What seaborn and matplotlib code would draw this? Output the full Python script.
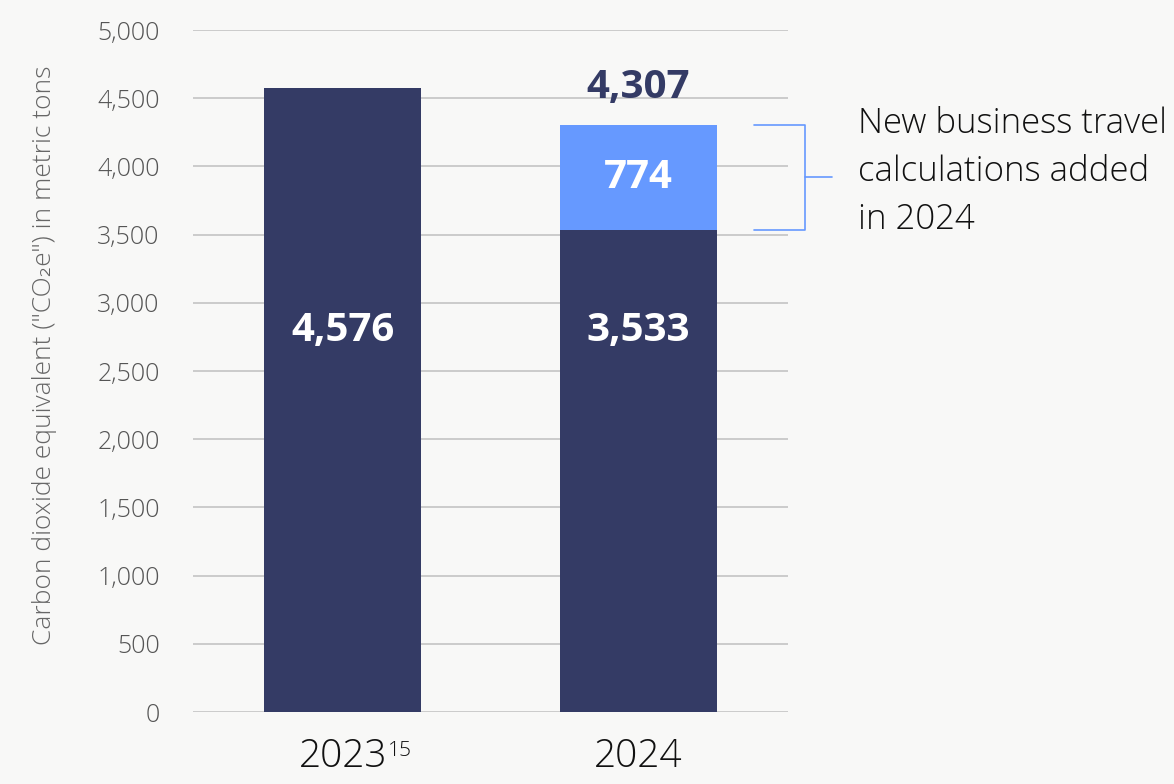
import pandas as pd
import matplotlib
matplotlib.use("Agg")
import matplotlib.pyplot as plt
import seaborn as sns

# Datos del gráfico
years = ["2023", "2024"]
base_values = [4576, 3533]
added_values = [0, 774]
footnotes = ["15", ""]
y_ticks = [0, 500, 1000, 1500, 2000, 2500, 3000, 3500, 4000, 4500, 5000]

navy = "#343b65"
light_blue = "#6699ff"
bg = "#f8f8f7"

totals = [b + a for b, a in zip(base_values, added_values)]
df = pd.DataFrame({"year": years, "base": base_values, "added": added_values, "total": totals})

sns.set_theme(style="white")
plt.rcParams["font.family"] = ["Open Sans", "DejaVu Sans"]

fig = plt.figure(figsize=(11.74, 7.84), dpi=100, facecolor=bg)
ax = fig.add_axes([0.1644, 0.0918, 0.5068, 0.8699])
ax.set_facecolor(bg)

# barras totales (2024 en azul claro) y luego la base en azul oscuro
top_colors = [navy if a == 0 else light_blue for a in added_values]
sns.barplot(data=df, x="year", y="total", hue="year", palette=top_colors, saturation=1,
            width=0.532, legend=False, ax=ax, zorder=3, linewidth=0)
sns.barplot(data=df, x="year", y="base", hue="year", palette=[navy, navy], saturation=1,
            width=0.532, legend=False, ax=ax, zorder=3, linewidth=0)

ax.set_xlim(-0.508, 1.508)
ax.set_ylim(0, 5000)
ax.set_yticks(y_ticks)
ax.set_yticklabels([f"{v:,}" for v in y_ticks])
ax.set_xticks(range(len(years)))
ax.set_xticklabels(years)
ax.grid(axis="y", color="#c8c8c8", lw=1.3, zorder=0)
ax.grid(axis="x", visible=False)
for s in ax.spines.values():
    s.set_visible(False)
ax.tick_params(axis="y", length=0, pad=24, labelsize=18, labelcolor="#555555")
ax.tick_params(axis="x", length=0, pad=18, labelsize=28, labelcolor="#111111")
for t in ax.get_yticklabels() + ax.get_xticklabels():
    t.set_fontweight("light")
ax.set_xlabel("")
ax.set_ylabel("")

fig.text(45 / 1174, 1 - 355 / 784, "Carbon dioxide equivalent (\"CO\u2082e\") in metric tons",
         rotation=90, ha="center", va="center", fontsize=19, color="#666666",
         fontweight="light")

# notas al pie en superíndice
fig.canvas.draw()
renderer = fig.canvas.get_renderer()
for lbl, note in zip(ax.get_xticklabels(), footnotes):
    if note:
        bb = lbl.get_window_extent(renderer)
        fig.text((bb.x1 + 1) / fig.bbox.width, (bb.y1 - 4) / fig.bbox.height, note,
                 ha="left", va="top", fontsize=15, color="#111111", fontweight="light")

# etiquetas de valores
for i, (b, a, t) in enumerate(zip(base_values, added_values, totals)):
    ax.text(i, 2800, f"{b:,}", ha="center", va="center", color="white",
            fontsize=29, fontweight="bold", zorder=5)
    if a > 0:
        ax.text(i, b + a / 2, f"{a:,}", ha="center", va="center", color="white",
                fontsize=29, fontweight="bold", zorder=5)
        ax.annotate(f"{t:,}", xy=(i, t), xytext=(0, 27), textcoords="offset points",
                    ha="center", va="center", color=navy, fontsize=29, fontweight="bold")
        # corchete
        x0, x1, x2 = i + 0.393, i + 0.566, i + 0.658
        mid = b + a / 2
        ax.plot([x0, x1, x1, x0], [t, t, b, b], color=light_blue, lw=1.2, clip_on=False)
        ax.plot([x1, x2], [mid, mid], color=light_blue, lw=1.2, clip_on=False)
        ax.text(i + 0.746, mid + 40, "New business travel\ncalculations added\nin 2024",
                ha="left", va="center", fontsize=25, color="#111111",
                linespacing=1.5, fontweight="light")

fig.savefig("out.png", dpi=100, facecolor=bg)
